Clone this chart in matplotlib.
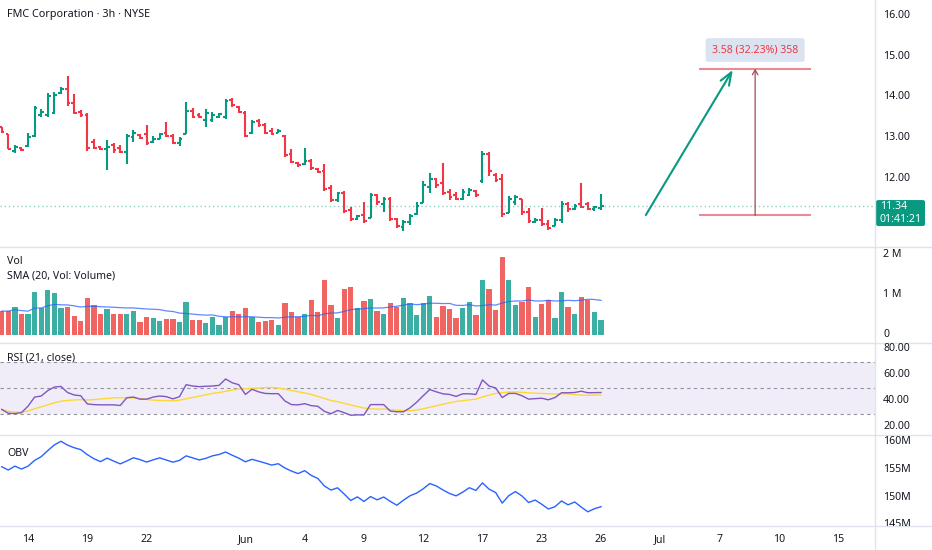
import numpy as np
import pandas as pd
import matplotlib
matplotlib.use('Agg')
import matplotlib.pyplot as plt
from matplotlib.collections import LineCollection
from matplotlib.lines import Line2D
from matplotlib.patches import FancyBboxPatch
from matplotlib.transforms import Bbox, TransformedBbox, blended_transform_factory

plt.rcParams['font.family'] = ['Noto Sans', 'DejaVu Sans']

# ---------------- data ----------------
open_ = [13.27, 13.10, 12.68, 12.76, 12.80, 13.05, 13.55, 13.55, 13.62, 14.10,
         14.20, 13.85, 13.64, 13.56, 12.90, 12.78, 12.72, 12.82, 12.76, 12.66,
         13.02, 13.08, 13.10, 12.90, 12.98, 13.12, 13.05, 12.88, 13.10, 13.65,
         13.56, 13.45, 13.45, 13.50, 13.52, 13.92, 13.76, 13.62, 13.12, 13.42,
         13.32, 13.16, 13.13, 13.05, 12.62, 12.40, 12.36, 12.45, 12.25, 12.20,
         11.78, 11.48, 11.65, 11.24, 11.03, 11.12, 11.06, 11.60, 11.40, 11.50,
         11.02, 10.82, 10.95, 11.15, 11.42, 11.80, 12.00, 11.90, 11.68, 11.62,
         11.52, 11.62, 11.70, 11.95, 12.60, 12.10, 12.00, 11.18, 11.45, 11.50,
         11.20, 10.95, 11.00, 10.90, 10.86, 11.00, 11.40, 11.28, 11.40, 11.38,
         11.27, 11.30]
high = [13.28, 13.10, 12.83, 12.79, 13.13, 13.79, 13.70, 14.10, 14.11, 14.24,
        14.50, 14.07, 13.68, 13.62, 12.98, 12.80, 12.95, 12.89, 12.83, 13.10,
        13.20, 13.10, 13.32, 13.05, 13.13, 13.40, 13.10, 13.03, 13.89, 13.72,
        13.62, 13.70, 13.64, 13.62, 13.95, 13.98, 13.79, 13.66, 13.44, 13.46,
        13.36, 13.24, 13.21, 13.07, 12.72, 12.42, 12.76, 12.49, 12.27, 12.37,
        11.85, 11.68, 11.71, 11.32, 11.12, 11.44, 11.66, 11.63, 11.56, 11.56,
        11.05, 11.00, 11.15, 11.44, 11.95, 12.15, 12.02, 12.39, 11.76, 11.68,
        11.76, 11.78, 11.73, 12.68, 12.66, 12.15, 12.12, 11.59, 11.61, 11.51,
        11.29, 11.05, 11.29, 11.00, 11.05, 11.46, 11.44, 11.39, 11.90, 11.44,
        11.34, 11.63]
low = [13.13, 12.72, 12.64, 12.68, 12.79, 13.02, 13.50, 13.50, 13.58, 14.07,
       13.79, 13.58, 13.52, 12.68, 12.72, 12.71, 12.22, 12.63, 12.64, 12.36,
       12.91, 12.97, 12.83, 12.87, 12.97, 13.02, 12.85, 12.80, 13.09, 13.48,
       13.48, 13.28, 13.40, 13.48, 13.46, 13.76, 13.60, 13.02, 13.10, 13.28,
       13.09, 13.07, 13.11, 12.54, 12.38, 12.30, 12.34, 12.22, 12.15, 11.71,
       11.44, 11.44, 11.17, 10.98, 11.00, 10.93, 11.05, 11.37, 11.20, 10.98,
       10.80, 10.73, 10.88, 11.12, 11.41, 11.66, 11.78, 11.61, 11.49, 11.49,
       11.49, 11.59, 11.56, 11.90, 12.07, 11.93, 11.07, 11.17, 11.37, 11.12,
       10.93, 10.93, 10.85, 10.76, 10.85, 10.93, 11.20, 11.24, 11.29, 11.24,
       11.22, 11.24]
close = [13.15, 12.74, 12.77, 12.70, 13.03, 13.72, 13.63, 14.02, 14.05, 14.20,
         13.85, 13.62, 13.56, 12.75, 12.76, 12.73, 12.79, 12.70, 12.67, 13.05,
         13.13, 13.00, 12.88, 12.98, 13.10, 13.05, 12.88, 12.97, 13.65, 13.52,
         13.50, 13.62, 13.55, 13.58, 13.90, 13.80, 13.63, 13.06, 13.40, 13.32,
         13.13, 13.10, 13.18, 12.58, 12.41, 12.33, 12.44, 12.27, 12.18, 11.75,
         11.48, 11.65, 11.22, 11.02, 11.10, 10.98, 11.60, 11.45, 11.50, 11.02,
         10.85, 10.95, 11.10, 11.35, 11.85, 12.00, 11.85, 11.65, 11.55, 11.52,
         11.68, 11.72, 11.60, 12.60, 12.20, 11.97, 11.15, 11.50, 11.55, 11.20,
         10.97, 11.00, 10.90, 10.80, 11.00, 11.40, 11.28, 11.35, 11.32, 11.28,
         11.32, 11.34]
volume_m = [0.59, 0.59, 0.70, 0.53, 0.53, 1.05, 0.67, 1.11, 1.03, 0.66,
            0.70, 0.47, 0.35, 0.91, 0.74, 0.53, 0.63, 0.53, 0.51, 0.53,
            0.58, 0.33, 0.45, 0.41, 0.35, 0.39, 0.39, 0.33, 0.82, 0.37,
            0.37, 0.29, 0.45, 0.25, 0.45, 0.59, 0.53, 0.66, 0.45, 0.33,
            0.35, 0.37, 0.25, 0.78, 0.56, 0.45, 0.53, 0.86, 0.56, 1.37,
            0.74, 0.41, 1.13, 1.18, 0.67, 0.84, 0.89, 0.59, 0.51, 0.80,
            0.70, 0.92, 0.80, 0.49, 0.78, 0.96, 0.45, 0.72, 0.64, 0.43,
            0.67, 0.81, 0.49, 1.36, 1.13, 0.62, 1.92, 1.36, 0.74, 0.81,
            1.18, 0.45, 0.77, 0.86, 0.41, 1.05, 0.70, 0.52, 0.93, 0.86,
            0.56, 0.37]
rsi = [33.5, 30.5, 30.3, 31.0, 36.0, 43.0, 43.8, 48.0, 50.7, 51.2,
       46.5, 44.6, 44.0, 37.7, 37.2, 37.0, 37.0, 37.0, 36.5, 42.5,
       43.0, 41.4, 41.4, 43.0, 43.8, 43.3, 41.6, 43.3, 52.5, 51.5,
       51.0, 51.3, 51.5, 52.0, 56.9, 54.0, 52.5, 45.0, 49.0, 47.0,
       45.8, 45.6, 45.6, 40.0, 37.2, 37.0, 37.9, 36.4, 35.9, 32.0,
       30.2, 32.7, 31.0, 29.0, 29.3, 29.2, 37.2, 37.2, 37.2, 32.2,
       31.7, 31.7, 34.7, 39.0, 44.0, 48.8, 47.0, 45.5, 45.0, 43.5,
       45.5, 45.5, 45.0, 56.2, 51.5, 50.0, 42.6, 45.8, 45.8, 44.0,
       41.4, 41.8, 42.1, 40.9, 42.6, 46.3, 46.3, 46.5, 47.5, 46.3,
       46.4, 46.5]
obv_start_m = 155.5

date_tick_pos = [4, 13, 22, 37, 46, 55, 64, 73, 82, 91, 100, 109, 118, 127]
date_tick_lab = ['14', '19', '22', 'Jun', '4', '9', '12', '17', '23', '26', 'Jul', '7', '10', '15']
price_ticks = [16, 15, 14, 13, 12]
vol_ticks = [2, 1, 0]
vol_tick_lab = ['2 M', '1 M', '0']
rsi_ticks = [80, 60, 40, 20]
obv_ticks = [160, 155, 150, 145]

last_price = 11.34
countdown = '01:41:21'
range_low, range_high = 11.11, 14.69
range_label = '3.58 (32.23%) 358'
arrow_start = (97.8, 11.12)
arrow_end = (111.0, 14.66)
range_x0, range_x1, range_xm = 105.9, 122.9, 114.4

# ---------------- derived ----------------
o = np.array(open_); h = np.array(high); l = np.array(low); c = np.array(close)
v = np.array(volume_m)
n = len(c)
idx = np.arange(n)
up = c >= o
vol_sma = pd.Series(v).rolling(20, min_periods=1).mean().values
rsi_ma = pd.Series(rsi).rolling(14, min_periods=1).mean().values
direction = np.where(up, 1.0, -1.0)
obv = obv_start_m + np.concatenate([[0.0], np.cumsum(direction[1:] * v[1:])])

UP = '#089981'; DN = '#f23645'
TXT = '#131722'
SEP = '#e0e3eb'

W, H = 932, 550
fig = plt.figure(figsize=(W / 100, H / 100), dpi=100)
fig.patch.set_facecolor('white')


def px_axes(x0, y0, x1, y1):
    return fig.add_axes([x0 / W, 1 - y1 / H, (x1 - x0) / W, (y1 - y0) / H])


ax_p = px_axes(0, 0, 875, 247)
ax_v = px_axes(0, 247, 875, 343)
ax_r = px_axes(0, 343, 875, 435)
ax_o = px_axes(0, 435, 875, 526)
panels = [(ax_p, 0, 247), (ax_v, 247, 343), (ax_r, 343, 435), (ax_o, 435, 526)]

XL = (-0.258, 132.6)
for ax, _, _ in panels:
    ax.set_xlim(*XL)
    ax.set_axis_off()

ax_p.set_ylim(10.341, 16.366)
ax_v.set_ylim(-0.198, 2.173)
ax_r.set_ylim(13.8, 84.6)
ax_o.set_ylim(144.73, 161.27)

# ---- price OHLC bars ----
tk = 0.42
for mask, col in ((up, UP), (~up, DN)):
    segs = []
    for i in idx[mask]:
        segs.append([(i, l[i]), (i, h[i])])
        segs.append([(i - tk, o[i]), (i, o[i])])
        segs.append([(i, c[i]), (i + tk, c[i])])
    ax_p.add_collection(LineCollection(segs, colors=col, linewidths=1.5, capstyle='butt'))

ax_p.axhline(last_price, color=UP, lw=1.0, ls=(0, (1, 2)), alpha=0.45)

# drawings
ax_p.annotate('', xy=arrow_end, xytext=arrow_start,
              arrowprops=dict(arrowstyle='->,head_length=0.9,head_width=0.35', color=UP, lw=1.5,
                              shrinkA=0, shrinkB=0))
ax_p.plot([range_x0, range_x1], [range_low, range_low], color='#ec8a91', lw=1.5, solid_capstyle='butt')
ax_p.plot([range_x0, range_x1], [range_high, range_high], color='#ec8a91', lw=1.5, solid_capstyle='butt')
ax_p.annotate('', xy=(range_xm, range_high), xytext=(range_xm, range_low),
              arrowprops=dict(arrowstyle='->,head_length=0.35,head_width=0.2', color='#a34856', lw=0.9,
                              shrinkA=0, shrinkB=0))
ax_p.text(range_xm, 15.146, range_label, ha='center', va='center', fontsize=7.6, color=DN,
          bbox=dict(boxstyle='round,pad=0.6,rounding_size=0.2', fc='#dbe2f0', ec='none'))

# ---- volume ----
vcols = np.where(up, '#26a69a', '#ef5350')
ax_v.bar(idx, v, width=0.8, color=vcols, alpha=0.9, linewidth=0)
ax_v.plot(idx, vol_sma, color='#2962ff', lw=0.9, alpha=0.75)

# ---- RSI ----
ax_r.axhspan(30, 70, color='#7e57c2', alpha=0.1, lw=0)
for lv in (70, 50, 30):
    ax_r.axhline(lv, color='#787b86', lw=0.8, ls=(0, (3, 3)), alpha=0.8)
ax_r.plot(idx, rsi_ma, color='#fdd835', lw=1.0)
ax_r.plot(idx, rsi, color='#7e57c2', lw=1.0)

# ---- OBV ----
ax_o.plot(idx, obv, color='#2962ff', lw=1.0)

# ---- legends ----
ax_p.text(7 / 875, 1 - 15 / 247, 'FMC Corporation · 3h · NYSE', transform=ax_p.transAxes,
          fontsize=7.8, fontweight='bold', color=TXT, va='center', ha='left')
ax_v.text(7 / 875, 1 - 15 / 96, 'Vol', transform=ax_v.transAxes, fontsize=7.6, color=TXT, va='center')
ax_v.text(7 / 875, 1 - 29 / 96, 'SMA (20, Vol: Volume)', transform=ax_v.transAxes, fontsize=7.6,
          color=TXT, va='center')
ax_r.text(7 / 875, 1 - 15 / 92, 'RSI (21, close)', transform=ax_r.transAxes, fontsize=7.6,
          color=TXT, va='center')
ax_o.text(7 / 875, 1 - 18 / 91, 'OBV', transform=ax_o.transAxes, fontsize=7.6, color=TXT, va='center')

# ---- right scale labels ----
def scale_labels(ax, y0, y1, vals, labs, bold_val=None):
    tr = blended_transform_factory(fig.transFigure, ax.transData)
    clip = TransformedBbox(Bbox([[0, 1 - y1 / H], [1, 1 - y0 / H]]), fig.transFigure)
    for val, lab in zip(vals, labs):
        t = fig.text(883 / W, val, lab, transform=tr, fontsize=7.6, color=TXT, va='center', ha='left',
                     fontweight='bold' if val == bold_val else 'normal')
        t.set_clip_box(clip)
        t.set_clip_on(True)

scale_labels(ax_p, 0, 247, price_ticks, ['%.2f' % p for p in price_ticks], bold_val=15)
scale_labels(ax_v, 247, 343, vol_ticks, vol_tick_lab)
scale_labels(ax_r, 343, 435, rsi_ticks, ['%.2f' % r for r in rsi_ticks])
scale_labels(ax_o, 435, 526, obv_ticks, ['%dM' % b for b in obv_ticks], bold_val=150)

# last price tag
y_tag = ax_p.transData.transform((0, last_price))[1]
y_tag_px = H - y_tag
tag = FancyBboxPatch((876 / W, 1 - (y_tag_px + 20) / H), 49 / W, 26 / H,
                     boxstyle='round,pad=0,rounding_size=0.003', transform=fig.transFigure,
                     fc=UP, ec='none')
fig.add_artist(tag)
fig.text(880 / W, 1 - y_tag_px / H, '%.2f' % last_price, color='white', fontsize=7.6,
         fontweight='bold', va='center', ha='left')
fig.text(880 / W, 1 - (y_tag_px + 13) / H, countdown, color='white', fontsize=7.6,
         va='center', ha='left')

# ---- time axis ----
xt = ax_o.get_xaxis_transform()
for pos, lab in zip(date_tick_pos, date_tick_lab):
    ax_o.text(pos, -(540 - 526) / 91, lab, transform=xt, ha='center', va='center', fontsize=7.6,
              color=TXT, fontweight='bold' if lab in ('Jun', 'Jul') else 'normal', clip_on=False)

# ---- separators ----
for yy in (247, 343, 435, 526):
    fig.add_artist(Line2D([0, 1], [1 - yy / H, 1 - yy / H], transform=fig.transFigure, color=SEP, lw=1.0))
fig.add_artist(Line2D([875 / W, 875 / W], [0, 1], transform=fig.transFigure, color=SEP, lw=1.0))

fig.savefig('out.png', dpi=100, facecolor='white')
